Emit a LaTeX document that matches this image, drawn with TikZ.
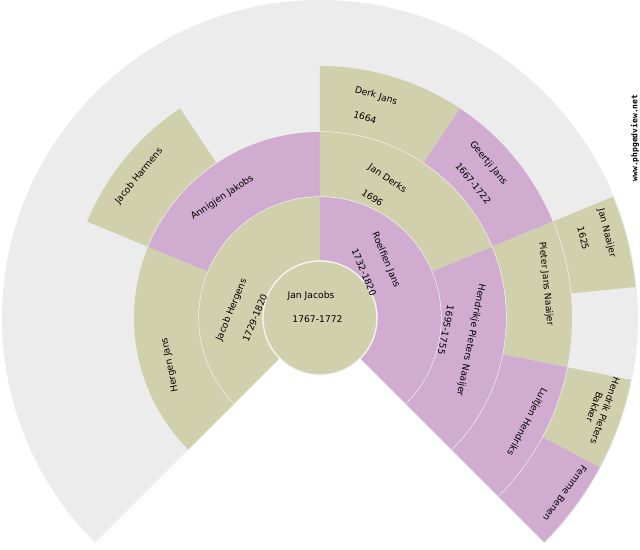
\documentclass[tikz,border=0pt]{standalone}
\usepackage{fontspec}
\setmainfont{DejaVu Sans}
\newfontfamily\wmfont{DejaVu Sans Mono}

\definecolor{mancol}{HTML}{D0D0AC}
\definecolor{womancol}{HTML}{D0ACD0}
\definecolor{fangrey}{HTML}{ECECEC}

% one box of the fan: start angle, end angle, inner radius, outer radius, style
\newcommand{\fanpart}[5]{%
  \fill[#5] (#1:#3) arc[start angle=#1, end angle=#2, radius=#3]
    -- (#2:#4) arc[start angle=#2, end angle=#1, radius=#4] -- cycle;
  \draw[ringline] (#1:#3) arc[start angle=#1, end angle=#2, radius=#3];}

\begin{document}
\begin{tikzpicture}[x=0.75pt,y=0.75pt,
  man/.style={fill=mancol},
  woman/.style={fill=womancol},
  ringline/.style={draw=white!96!black,line width=0.9pt},
  lbl/.style={font=\fontsize{6.9}{8.5}\selectfont,inner sep=0pt,align=center}]

\useasboundingbox (-320,-232) rectangle (320,318);

\fill[fangrey] (0,0) -- (225:318) arc[start angle=225, end angle=-45, radius=318] -- cycle;

% ring 4
\fanpart{22.5}{5.625}{252}{317}{man}
\fanpart{-11.25}{-28.125}{252}{317}{man}
\fanpart{-28.125}{-45}{252}{317}{woman}
% ring 3
\fanpart{157.5}{123.75}{186}{252}{man}
\fanpart{90}{56.25}{186}{252}{man}
\fanpart{56.25}{22.5}{186}{252}{woman}
\fanpart{22.5}{-11.25}{186}{252}{man}
\fanpart{-11.25}{-45}{186}{252}{woman}
% ring 2
\fanpart{225}{157.5}{121}{186}{man}
\fanpart{157.5}{90}{121}{186}{woman}
\fanpart{90}{22.5}{121}{186}{man}
\fanpart{22.5}{-45}{121}{186}{woman}
% ring 1
\fanpart{225}{90}{57}{121}{man}
\fanpart{90}{-45}{57}{121}{woman}
\fill[man] (0,0) circle[radius=57];
\draw[ringline] (0,0) circle[radius=57];

\node[lbl] (1) at (-9,22.3) {Jan Jacobs};
\node[lbl] (1y) at (-2.5,-1.3) {1767-1772};

\node[lbl,rotate=67.5] (2) at (-88.3,8) {Jacob Hergens};
\node[lbl,rotate=67.5] (2y) at (-65,0) {1729-1820};
\node[lbl,rotate=-67.5] (3) at (65.7,58) {Roelfien Jans};
\node[lbl,rotate=-67.5] (3y) at (44,45.7) {1732-1820};

\node[lbl,rotate=101.25] (4) at (-150,-47) {Hergen Jans};
\node[lbl,rotate=33.75] (5) at (-97.7,120.5) {Annigjen Jakobs};
\node[lbl,rotate=-33.75] (6) at (67.3,139.3) {Jan Derks};
\node[lbl,rotate=-33.75] (6y) at (52.5,120.2) {1696};
\node[lbl,rotate=-101.25] (7) at (150.7,-22) {Hendrikje Pieters Naaijer};
\node[lbl,rotate=-101.25] (7y) at (126,-12) {1695-1755};

\node[lbl,rotate=50.6] (10) at (-181,142) {Jacob Harmens};
\node[lbl,rotate=-16.9] (12) at (56,222) {Derk Jans};
\node[lbl,rotate=-16.9] (12y) at (45,200.7) {1664};
\node[lbl,rotate=-50.6] (13) at (168.3,154.7) {Geertji Jans};
\node[lbl,rotate=-50.6] (13y) at (153.3,134.7) {1667-1722};
\node[lbl,rotate=-84.4] (14) at (226,34) {Pieter Jans Naaijer};
\node[lbl,rotate=-118.1] (15) at (206.7,-103.7) {Luitjen Hendriks};

\node[lbl,rotate=-75.9] (28) at (286.7,84.7) {Jan Naaijer};
\node[lbl,rotate=-75.9] (28y) at (263.3,79.7) {1625};
\node[lbl,rotate=-109.7] (30) at (280,-91) {Hendrik Pieters\\Bakker};
\node[lbl,rotate=-126.6] (31) at (245,-175.3) {Femme Benen};

\node[font=\wmfont\bfseries\fontsize{6}{7}\selectfont,inner sep=0pt,rotate=90] (www) at (315,180) {www.phpgedview.net};

\end{tikzpicture}
\end{document}
